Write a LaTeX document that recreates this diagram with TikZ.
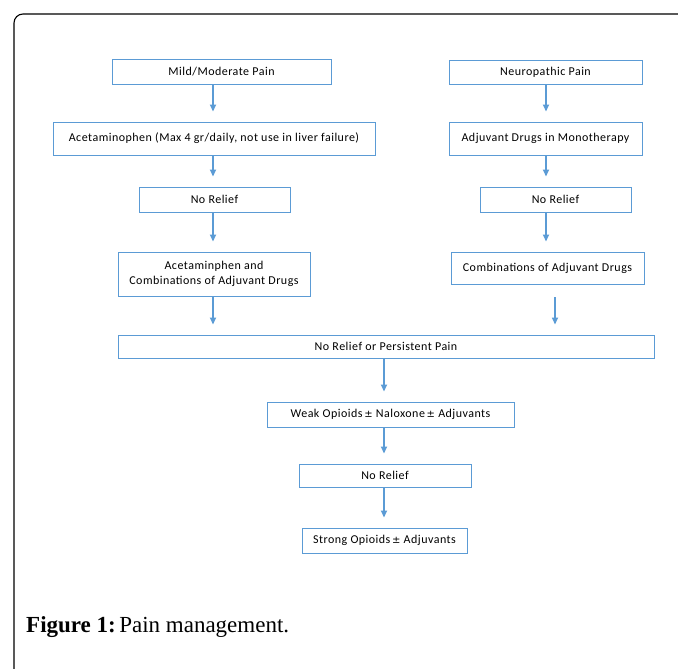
\documentclass[tikz,border=0pt]{standalone}
\usepackage{fontspec}
\setmainfont{Liberation Serif}
\newfontfamily\boxfont[LetterSpace=4]{Carlito}
\newfontfamily\pmfont{DejaVu Sans}
\usetikzlibrary{arrows.meta}

\definecolor{boxblue}{HTML}{5B9BD5}
\definecolor{boxtext}{HTML}{000000}

% plus-minus sign, as in the source boxes
\newcommand{\pmsign}{{\pmfont\fontsize{10}{10}\selectfont\,±}\ }

\tikzset{
  stepbox/.style={draw=boxblue, line width=0.9pt, inner sep=0pt, align=center,
    text=boxtext, font=\boxfont\fontsize{12}{15}\selectfont},
  flow/.style={draw=boxblue, line width=1.6pt, shorten >=10pt,
    -{Triangle[length=7pt,width=6pt]}}
}

\begin{document}
\begin{tikzpicture}[x=1pt, y=-1pt]

% Page size and frame
\useasboundingbox (0,0) rectangle (678,669);
\draw[line width=1.1pt, rounded corners=9pt] (14,680) -- (14,14) -- (690,14);

% Left column
\node[stepbox, minimum width=219pt, minimum height=25pt] (mild)   at (221.5,71.5) {Mild/Moderate Pain};
\node[stepbox, minimum width=322pt, minimum height=33pt] (acet)   at (214,138.5) {Acetaminophen (Max 4 gr/daily, not use in liver failure)};
\node[stepbox, minimum width=151pt, minimum height=25pt] (nrL)    at (214.5,199.5) {No Relief};
\node[stepbox, minimum width=192pt, minimum height=44pt] (comboL) at (214,274) {Acetaminphen and\\Combinations of Adjuvant Drugs};

% Right column
\node[stepbox, minimum width=193pt, minimum height=24pt] (neuro)  at (545.5,72) {Neuropathic Pain};
\node[stepbox, minimum width=193pt, minimum height=33pt] (mono)   at (545.5,138.5) {Adjuvant Drugs in Monotherapy};
\node[stepbox, minimum width=151pt, minimum height=25pt] (nrR)    at (555.5,199.5) {No Relief};
\node[stepbox, minimum width=193pt, minimum height=32pt] (comboR) at (547.5,268) {Combinations of Adjuvant Drugs};

% Common path
\node[stepbox, minimum width=536pt, minimum height=23pt] (persist) at (386,346.5) {No Relief or Persistent Pain};
\node[stepbox, minimum width=247pt, minimum height=25pt] (weak)    at (390.5,414.5) {Weak Opioids\pmsign Naloxone\pmsign Adjuvants};
\node[stepbox, minimum width=172pt, minimum height=23pt] (nrC)     at (385,475.5) {No Relief};
\node[stepbox, minimum width=165pt, minimum height=25pt] (strong)  at (384.5,540.5) {Strong Opioids\pmsign Adjuvants};

% Arrow columns
\coordinate (colL) at (213,0);
\coordinate (colR) at (546,0);
\coordinate (colRR) at (555,0);
\coordinate (colC) at (384,0);

% Arrows
\foreach \a/\b in {mild/acet, acet/nrL, nrL/comboL, comboL/persist} {
    \draw[flow] (\a.south -| colL) -- (\b.north -| colL);
}
\foreach \a/\b in {neuro/mono, mono/nrR, nrR/comboR} {
    \draw[flow] (\a.south -| colR) -- (\b.north -| colR);
}
\draw[flow, shorten <=13pt] (comboR.south -| colRR) -- (persist.north -| colRR);
\foreach \a/\b in {persist/weak, weak/nrC, nrC/strong} {
    \draw[flow] (\a.south -| colC) -- (\b.north -| colC);
}

% Caption
\node[anchor=base west, inner sep=0pt, font=\fontsize{23}{27}\selectfont] (caption) at (26,632)
    {\textbf{Figure 1:}\hspace{0.15em}Pain management.};

\end{tikzpicture}
\end{document}
